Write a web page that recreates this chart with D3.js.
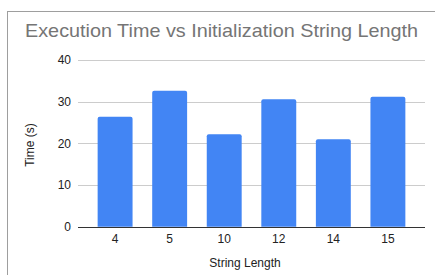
<!DOCTYPE html>
<html><head><meta charset="utf-8">
<script src="https://cdn.jsdelivr.net/npm/d3@7"></script>
<style>body{margin:0;background:#fff;}svg{display:block;font-family:"Liberation Sans",Arial,sans-serif;}</style>
</head><body>
<script>
const categories = ["4", "5", "10", "12", "14", "15"];
const timeValues = [26.4, 32.6, 22.2, 30.6, 21.0, 31.2];
const yTicks = [0, 10, 20, 30, 40];
const title = "Execution Time vs Initialization String Length";
const xTitle = "String Length";
const yTitle = "Time (s)";

(function () {
const W = 435, H = 275;
const svg = d3.select("body").append("svg").attr("width", W).attr("height", H);

// outer border (cropped)
svg.append("rect").attr("x", 7.5).attr("y", 11.5).attr("width", 500).attr("height", 400)
  .attr("fill", "#fff").attr("stroke", "#9e9e9e").attr("stroke-width", 1);

const mLeft = 78, mRight = 425, mTop = 60, mBottom = 226.7;
const x = d3.scaleBand().domain(categories).range([mLeft, mRight]).paddingInner(0.36).paddingOuter(0.36);
const y = d3.scaleLinear().domain([0, 40]).range([mBottom, mTop]);

// grid
svg.append("g").selectAll("line").data(yTicks.filter(t => t > 0)).join("line")
  .attr("x1", mLeft).attr("x2", mRight)
  .attr("y1", d => Math.round(y(d)) + 0.5).attr("y2", d => Math.round(y(d)) + 0.5)
  .attr("stroke", "#cccccc").attr("stroke-width", 1);

// y tick labels
svg.append("g").selectAll("text").data(yTicks).join("text")
  .attr("x", mLeft - 7).attr("y", d => y(d)).attr("dy", "0.35em")
  .attr("text-anchor", "end").attr("font-size", 12).attr("fill", "#222")
  .text(d => d);

// bars
svg.append("g").selectAll("path").data(timeValues).join("path")
  .attr("d", (d, i) => {
    const x0 = x(categories[i]), w = x.bandwidth(), y0 = y(d), r = 2;
    return `M${x0},${mBottom}V${y0 + r}Q${x0},${y0} ${x0 + r},${y0}H${x0 + w - r}Q${x0 + w},${y0} ${x0 + w},${y0 + r}V${mBottom}Z`;
  })
  .attr("fill", "#4285f4");

// baseline
svg.append("line").attr("x1", mLeft).attr("x2", mRight)
  .attr("y1", Math.round(mBottom) + 0.5).attr("y2", Math.round(mBottom) + 0.5)
  .attr("stroke", "#333").attr("stroke-width", 1);

// x tick labels
svg.append("g").selectAll("text").data(categories).join("text")
  .attr("x", d => x(d) + x.bandwidth() / 2).attr("y", 243)
  .attr("text-anchor", "middle").attr("font-size", 12).attr("fill", "#222")
  .text(d => d);

// title
svg.append("text").attr("x", 25).attr("y", 37)
  .attr("font-size", 18.5).attr("fill", "#757575")
  .attr("textLength", 393).attr("lengthAdjust", "spacingAndGlyphs")
  .text(title);

// axis titles
svg.append("text").attr("x", 245).attr("y", 267).attr("text-anchor", "middle")
  .attr("font-size", 12).attr("fill", "#222").text(xTitle);
svg.append("text").attr("transform", "translate(34,145) rotate(-90)").attr("text-anchor", "middle")
  .attr("font-size", 12).attr("fill", "#222").text(yTitle);
})();
</script>
</body></html>
